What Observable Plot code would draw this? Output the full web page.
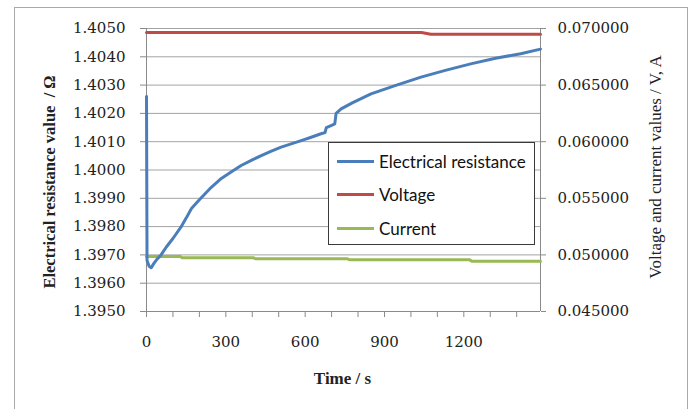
<!DOCTYPE html>
<html><head><meta charset="utf-8">
<script src="https://cdn.jsdelivr.net/npm/d3@7"></script>
<script src="https://cdn.jsdelivr.net/npm/@observablehq/plot@0.6"></script>
<style>
body{margin:0;background:#fff;}
#wrap{position:relative;width:693px;height:409px;overflow:hidden;background:#fff;}
#frame{position:absolute;left:14px;top:7px;width:672px;height:440px;border:1px solid #a9a9a9;}
#chart{position:absolute;left:0;top:0;}
#legend{position:absolute;left:328px;top:142px;width:205px;height:101px;border:1px solid #3a3a3a;background:#fff;font-family:Lato,sans-serif;font-size:17px;color:#111;}
.item{position:absolute;left:8px;height:20px;display:flex;align-items:center;white-space:nowrap;}
.sw{width:37px;height:3px;margin-right:5px;}
</style></head>
<body>
<div id="wrap"><div id="frame"></div><div id="chart"></div><div id="legend"></div></div>
<script>
// ---- data ----
const resTime  = [0, 2, 10, 18, 28, 40, 55, 75, 100, 130, 150, 170, 200, 245, 283, 320, 358, 400, 434, 470, 509, 550, 585, 620, 660, 675, 680, 700, 712, 717, 736, 780, 849, 940, 1038, 1130, 1226, 1320, 1415, 1490];
const resValue = [1.4026, 1.3968, 1.3966, 1.39655, 1.3967, 1.39685, 1.3970, 1.39728, 1.39758, 1.39798, 1.39830, 1.39864, 1.39895, 1.39939, 1.39970, 1.39993, 1.40016, 1.40036, 1.40051, 1.40066, 1.40081, 1.40093, 1.40104, 1.40115, 1.40128, 1.40132, 1.40150, 1.40158, 1.40163, 1.40200, 1.40216, 1.40238, 1.40269, 1.40298, 1.40328, 1.40352, 1.40375, 1.40395, 1.40411, 1.40427];
const voltTime  = [0, 1040, 1075, 1490];
const voltValue = [0.06965, 0.06965, 0.06950, 0.06950];
const currTime  = [0, 128, 135, 405, 412, 760, 767, 1222, 1230, 1490];
const currValue = [0.04986, 0.04986, 0.04974, 0.04974, 0.04966, 0.04966, 0.04957, 0.04957, 0.04944, 0.04944];
const leftTicks  = [1.395, 1.396, 1.397, 1.398, 1.399, 1.400, 1.401, 1.402, 1.403, 1.404, 1.405];
const rightTicks = [0.045, 0.050, 0.055, 0.060, 0.065, 0.070];
const xTicks = [0, 100, 200, 300, 400, 500, 600, 700, 800, 900, 1000, 1100, 1200, 1300, 1400];
const xLabels = [0, 300, 600, 900, 1200];
const seriesNames = ["Electrical resistance", "Voltage", "Current"];
const colors = ["#4a7ebb", "#be4b48", "#98b954"];

// right axis (V, A) mapped onto left (Ω) scale
const toLeft = v => 1.395 + (v - 0.045) * 0.4;
const fromLeft = r => 0.045 + (r - 1.395) * 2.5;

const res = resTime.map((t, i) => ({t, v: resValue[i]}));
const volt = voltTime.map((t, i) => ({t, v: toLeft(voltValue[i])}));
const curr = currTime.map((t, i) => ({t, v: toLeft(currValue[i])}));

const serif = "DejaVu Serif";
const axisText = {fontFamily: serif, fontSize: 15, color: "#222", fill: "#222"};
const chart = Plot.plot({
  width: 693, height: 409,
  marginLeft: 146, marginRight: 153, marginTop: 28, marginBottom: 98,
  style: {fontFamily: serif, fontSize: "15px", color: "#222", background: "transparent"},
  x: {domain: [0, 1490]},
  y: {domain: [1.395, 1.405]},
  marks: [
    Plot.gridY(leftTicks, {stroke: "#a3a3a3", strokeOpacity: 1}),
    Plot.ruleX([0], {stroke: "#8a8a8a"}),
    Plot.ruleX([1490], {stroke: "#8a8a8a"}),
    Plot.ruleY([1.395], {stroke: "#8a8a8a"}),
    Plot.axisY({ticks: leftTicks, tickFormat: d3.format(".4f"), tickSize: 6, tickPadding: 15, label: null, stroke: "#8a8a8a", ...axisText}),
    Plot.axisY({anchor: "right", ticks: rightTicks.map(toLeft), tickFormat: d => d3.format(".6f")(fromLeft(d)), tickSize: 5, tickPadding: 12, label: null, stroke: "#8a8a8a", ...axisText}),
    Plot.axisX({ticks: xTicks, tickFormat: d => xLabels.includes(d) ? String(d) : "", tickSize: 6, tickPadding: 19, label: null, stroke: "#8a8a8a", ...axisText}),
    Plot.line(curr, {x: "t", y: "v", stroke: colors[2], strokeWidth: 3}),
    Plot.line(volt, {x: "t", y: "v", stroke: colors[1], strokeWidth: 3}),
    Plot.line(res, {x: "t", y: "v", stroke: colors[0], strokeWidth: 3, strokeLinejoin: "round"}),
    Plot.text(["Electrical resistance value  / Ω"], {frameAnchor: "left", textAnchor: "middle", dx: -97, dy: 12, rotate: -90, fontFamily: "Liberation Serif", fontWeight: "bold", fontSize: 16.5, fill: "#222"}),
    Plot.text(["Voltage and current values / V, A"], {frameAnchor: "right", textAnchor: "middle", dx: 115, dy: -3, rotate: -90, fontFamily: "Liberation Serif", fontSize: 17, fill: "#222"}),
    Plot.text(["Time / s"], {frameAnchor: "bottom", textAnchor: "middle", dx: -1, dy: 67, lineAnchor: "middle", fontFamily: "Liberation Serif", fontWeight: "bold", fontSize: 17, fill: "#222"})
  ]
});
document.getElementById("chart").appendChild(chart);

const legend = document.getElementById("legend");
const rowY = [8, 41, 75];
seriesNames.forEach((n, i) => {
  const d = document.createElement("div");
  d.className = "item";
  d.style.top = rowY[i] + "px";
  d.innerHTML = `<span class="sw" style="background:${colors[i]}"></span><span>${n}</span>`;
  legend.appendChild(d);
});
</script>
</body></html>
